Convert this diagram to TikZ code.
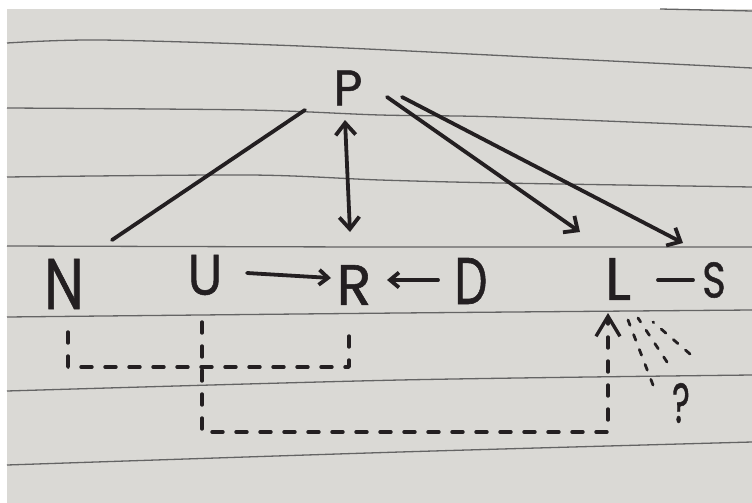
\documentclass[tikz,border=0pt]{standalone}
\usepackage{fontspec}
\setmainfont{Poppins}[FakeBold=1.0]
\usetikzlibrary{arrows.meta,calc}
\definecolor{paper}{RGB}{218,217,213}
\definecolor{rulecol}{RGB}{100,100,100}
\definecolor{ink}{RGB}{35,31,33}
\begin{document}
\begin{tikzpicture}[x=1pt,y=-1pt,
  letter/.style={inner sep=0pt, text=ink},
  pen/.style={draw=ink, line width=3.8pt, line cap=round, line join=round},
  sketchdash/.style={pen, line width=3.4pt, dash pattern=on 11pt off 13pt},
  fan/.style={pen, line width=2.8pt, dash pattern=on 6pt off 10pt},
  ruling/.style={draw=rulecol, line width=1.3pt},
  bigtip/.style={-{Straight Barb[length=11pt,width=20pt]}},
  smalltip/.style={-{Straight Barb[length=9pt,width=15pt]}},
  dbltip/.style={{Straight Barb[length=12pt,width=20pt]}-{Straight Barb[length=12pt,width=20pt]}},
  uptip/.style={-{Straight Barb[length=20pt,width=24pt]}}
]
\useasboundingbox (0,0) rectangle (752,503);
\fill[white] (0,0) rectangle (752,503);
\fill[paper] (7,9) rectangle (752,503);
% ruled lines of the notebook page
\draw[ruling] (660,9) -- (752,11);
\draw[ruling] plot[smooth] coordinates {(7,43) (100,40) (300,46) (550,58) (752,68)};
\draw[ruling] plot[smooth] coordinates {(7,108) (250,110) (380,115) (500,117) (752,127)};
\draw[ruling] plot[smooth] coordinates {(7,177) (250,175) (380,180) (500,183) (752,187)};
\draw[ruling] plot[smooth] coordinates {(7,246) (380,247) (752,247)};
\draw[ruling] plot[smooth] coordinates {(7,317) (400,313) (752,310)};
\draw[ruling] plot[smooth] coordinates {(7,391) (400,380) (752,375)};
\draw[ruling] plot[smooth] coordinates {(7,465) (400,452) (752,442)};

% letters
\node[letter, font=\fontsize{50}{50}\selectfont] (P) at (348,88) {P};
\node[letter, font=\fontsize{72}{72}\selectfont] (N) at (64,284) {\scalebox{0.78}[1]{N}};
\node[letter, font=\fontsize{57}{57}\selectfont] (U) at (205,275) {\scalebox{0.9}[1]{U}};
\node[letter, font=\fontsize{57}{57}\selectfont] (R) at (354,285) {R};
\node[letter, font=\fontsize{66}{66}\selectfont] (D) at (471,281) {\scalebox{0.7}[1]{D}};
\node[letter, font=\fontsize{60}{60}\selectfont] (L) at (618,279) {L};
\node[letter, font=\fontsize{50}{50}\selectfont] (S) at (714,280) {\scalebox{0.8}[1]{S}};
\node[letter, font=\fontsize{56}{56}\selectfont] (Q) at (681,403) {\scalebox{0.6}[1]{?}};

% solid connectors
\draw[pen] ($(N)+(48,-44)$) -- ($(P)+(-43,22)$);
\draw[pen, dbltip] ($(P)+(-3,32)$) -- ($(R)+(-4,-53)$);
\draw[pen, bigtip] ($(P)+(39,9)$) -- ($(L)+(-38,-47)$);
\draw[pen, bigtip] ($(P)+(54,9)$) -- ($(S)+(-31,-37)$);
\draw[pen, smalltip] ($(U)+(42,-2)$) -- ($(R)+(-23,-7)$);
\draw[pen, smalltip] ($(D)+(-33,-1)$) -- ($(R)+(33,-5)$);
\draw[pen] ($(L)+(40,1)$) -- ($(S)+(-21,0)$);

% dashed connectors
\draw[sketchdash] ($(N)+(4,48)$) |- ($(R)+(-5,82)$) -- ($(R)+(-5,40)$);
\draw[sketchdash, uptip] ($(U)+(-3,47)$) |- ($(L)+(-10,153)$) -- ($(L)+(-10,34)$);
\draw[fan] ($(Q)+(-28,-18)$) -- ($(L)+(10,41)$);
\draw[fan] ($(Q)+(-14,-41)$) -- ($(L)+(20,39)$);
\draw[fan] ($(Q)+(9,-49)$) -- ($(L)+(35,43)$);
\end{tikzpicture}
\end{document}
